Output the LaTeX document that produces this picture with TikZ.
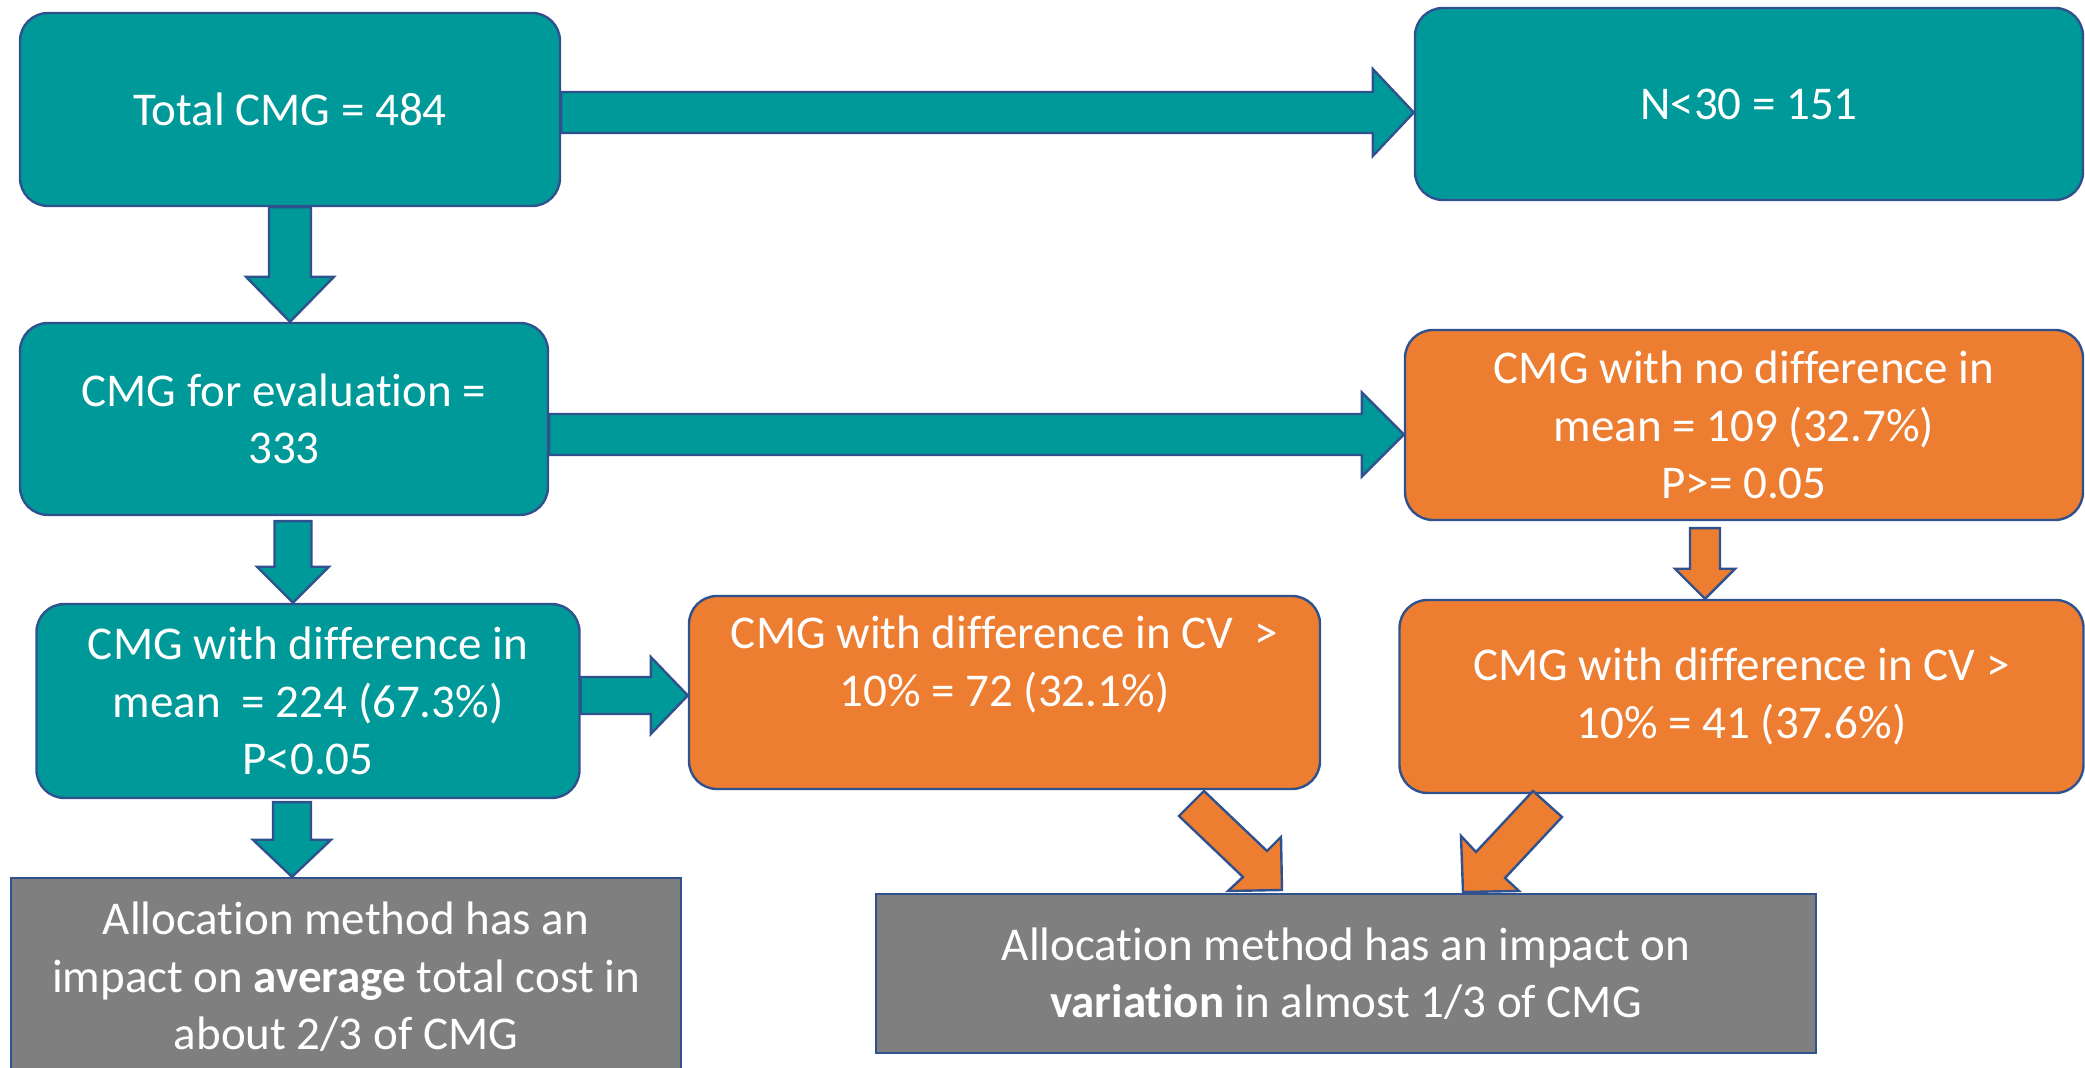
\documentclass[tikz,border=0pt]{standalone}
\usepackage{fontspec}
\setmainfont{Carlito}[RawFeature={-liga;-clig;-dlig;-calt}]
\usetikzlibrary{calc}
\definecolor{tealc}{RGB}{0,153,153}
\definecolor{orangec}{RGB}{237,125,49}
\definecolor{grayc}{RGB}{127,127,127}
\definecolor{edgec}{RGB}{47,82,143}
% right-pointing block arrow: style, start, tip, shaft half, head half, head length
\newcommand\rarrow[6]{\draw[#1] ($(#2)+(0,-#4)$) -- ($(#3)+(-#6,-#4)$) -- ($(#3)+(-#6,-#5)$) -- (#3) -- ($(#3)+(-#6,#5)$) -- ($(#3)+(-#6,#4)$) -- ($(#2)+(0,#4)$) -- cycle;}
% down-pointing block arrow
\newcommand\darrow[6]{\draw[#1] ($(#2)+(-#4,0)$) -- ($(#3)+(-#4,-#6)$) -- ($(#3)+(-#5,-#6)$) -- (#3) -- ($(#3)+(#5,-#6)$) -- ($(#3)+(#4,-#6)$) -- ($(#2)+(#4,0)$) -- cycle;}
\begin{document}
\begin{tikzpicture}[x=0.5pt,y=-0.5pt,
  box/.style={draw=edgec,line width=1.2pt,text=white,align=center,inner sep=0pt,font=\fontsize{23.5pt}{28.7pt}\selectfont},
  tealbox/.style={box,fill=tealc,rounded corners=14pt},
  orangebox/.style={box,fill=orangec,rounded corners=14pt},
  graybox/.style={box,fill=grayc},
  boxtext/.style={text=white,align=center,inner sep=0pt,font=\fontsize{23.5pt}{28.7pt}\selectfont},
  tealarr/.style={draw=edgec,line width=1.2pt,fill=tealc,line join=miter},
  orangearr/.style={draw=edgec,line width=1.2pt,fill=orangec,line join=miter}]
\useasboundingbox (0,0) rectangle (2085,1068);

\node[tealbox,minimum width=270pt,minimum height=96.5pt] (A) at (290,109.5) {Total CMG = 484};
\node[tealbox,minimum width=334pt,minimum height=96pt] (N) at (1749,104) {N<30 = 151};
\node[tealbox,minimum width=264pt,minimum height=96pt] (B) at (284,419) {CMG for evaluation =\\333};
\node[orangebox,minimum width=339pt,minimum height=95pt] (ND) at (1744,425) {CMG with no difference in\\mean = 109 (32.7\%)\\P>= 0.05};
\node[tealbox,minimum width=271.5pt,minimum height=97pt] (D) at (308,701) {CMG with difference in\\mean~ = 224 (67.3\%)\\P<0.05};
\node[orangebox,minimum width=315.5pt,minimum height=96.5pt] (E) at (1004.5,692.5) {};
\node[boxtext] (Et) at ($(E.center)+(0,-28)$) {CMG with difference in CV~ >\\10\% = 72 (32.1\%)};
\node[orangebox,minimum width=342pt,minimum height=96.5pt] (F) at (1741.5,696.5) {CMG with difference in CV >\\10\% = 41 (37.6\%)};
\node[graybox,minimum width=335pt,minimum height=99pt] (G) at (346,977) {Allocation method has an\\impact on \textbf{average} total cost in\\about 2/3 of CMG};
\node[graybox,minimum width=470pt,minimum height=79.5pt] (H) at (1346,973.5) {Allocation method has an impact on\\\textbf{variation} in almost 1/3 of CMG};

% connectors
\coordinate (a1s) at ($(A.east)+(0,3)$);
\coordinate (a1t) at (a1s -| N.west);
\rarrow{tealarr}{a1s}{a1t}{20.5}{43.5}{41}

\coordinate (a2s) at (A.south);
\coordinate (a2t) at (A.south |- B.north);
\darrow{tealarr}{a2s}{a2t}{21}{44}{45}

\coordinate (b3s) at ($(B.east)+(0,15.5)$);
\coordinate (b3t) at (b3s -| ND.west);
\rarrow{tealarr}{b3s}{b3t}{20.5}{42}{42}

\coordinate (b4s) at ($(B.south)+(9,5)$);
\coordinate (b4t) at (b4s |- D.north);
\darrow{tealarr}{b4s}{b4t}{18.5}{36}{36}

\coordinate (d5s) at ($(D.east)+(0,-5.5)$);
\coordinate (d5t) at (d5s -| E.west);
\rarrow{tealarr}{d5s}{d5t}{18.5}{38.5}{37}

\coordinate (d6s) at ($(D.south)+(-16,3)$);
\coordinate (d6t) at (d6s |- G.north);
\darrow{tealarr}{d6s}{d6t}{19}{39}{37}

\coordinate (n7s) at ($(ND.south)+(-39,7)$);
\coordinate (n7t) at (n7s |- F.north);
\darrow{orangearr}{n7s}{n7t}{15}{30}{30}

% diagonal block arrows into H
\coordinate (e8t) at (1282,890);
\draw[orangearr] ($(e8t)+(-78,-99)$) -- ($(e8t)+(-103,-74)$) -- ($(e8t)+(-39,-13)$) -- ($(e8t)+(-54,1)$) -- (e8t) -- ($(e8t)+(-1,-53)$) -- ($(e8t)+(-15,-39)$) -- cycle;
\coordinate (f9t) at (1463,892);
\draw[orangearr] ($(f9t)+(70,-101)$) -- ($(f9t)+(99,-75)$) -- ($(f9t)+(42,-14)$) -- ($(f9t)+(56,-1)$) -- (f9t) -- ($(f9t)+(-2,-56)$) -- ($(f9t)+(13,-40)$) -- cycle;
\end{tikzpicture}
\end{document}
